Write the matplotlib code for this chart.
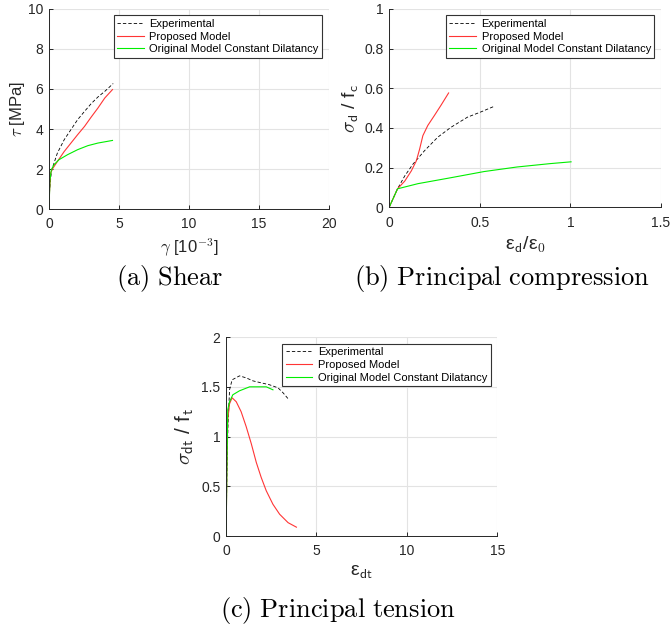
# Comparison of experimental data vs models (shear / compression / tension)
import matplotlib
matplotlib.use("Agg")
import matplotlib.pyplot as plt

plt.rcParams['font.family'] = ['Liberation Sans', 'DejaVu Sans']
plt.rcParams['mathtext.fontset'] = 'cm'

# (a) Shear
shear_exp_x = [0, 0.05, 0.17, 0.36, 0.6, 1.09, 1.57, 2.05, 2.54, 3.02, 3.5, 3.99, 4.59]
shear_exp_y = [0, 1.0, 1.88, 2.3, 2.8, 3.47, 3.97, 4.47, 4.88, 5.27, 5.6, 5.88, 6.27]
shear_prop_x = [0, 0.04, 0.12, 0.24, 0.6, 1.09, 1.57, 2.05, 2.54, 3.02, 3.5, 3.99, 4.54]
shear_prop_y = [0, 0.9, 1.8, 2.0, 2.38, 2.88, 3.3, 3.72, 4.13, 4.6, 5.05, 5.55, 5.97]
shear_orig_x = [0, 0.07, 0.17, 0.36, 0.72, 1.33, 2.05, 2.78, 3.5, 4.54]
shear_orig_y = [0, 1.47, 1.97, 2.22, 2.47, 2.72, 2.97, 3.17, 3.3, 3.43]

# (b) Principal compression
comp_exp_x = [0, 0.046, 0.086, 0.131, 0.195, 0.268, 0.341, 0.432, 0.505, 0.578]
comp_exp_y = [0, 0.093, 0.158, 0.217, 0.285, 0.353, 0.403, 0.454, 0.48, 0.508]
comp_prop_x = [0, 0.046, 0.086, 0.122, 0.150, 0.168, 0.186, 0.213, 0.25, 0.286, 0.328]
comp_prop_y = [0, 0.093, 0.132, 0.183, 0.234, 0.293, 0.361, 0.412, 0.463, 0.514, 0.576]
comp_orig_x = [0, 0.046, 0.159, 0.341, 0.524, 0.706, 0.889, 1.004]
comp_orig_y = [0, 0.093, 0.119, 0.149, 0.180, 0.203, 0.22, 0.229]

# (c) Principal tension
ten_exp_x = [0, 0.04, 0.1, 0.19, 0.33, 0.74, 1.11, 1.48, 1.94, 2.41, 2.87, 3.15, 3.43]
ten_exp_y = [0, 0.6, 1.1, 1.47, 1.57, 1.61, 1.59, 1.56, 1.54, 1.52, 1.49, 1.44, 1.38]
ten_prop_x = [0, 0.04, 0.09, 0.19, 0.33, 0.56, 0.83, 1.11, 1.39, 1.67, 1.94, 2.22,
              2.59, 2.96, 3.43, 3.89]
ten_prop_y = [0, 0.66, 1.17, 1.33, 1.39, 1.35, 1.25, 1.10, 0.93, 0.74, 0.59, 0.456,
              0.32, 0.22, 0.135, 0.09]
ten_orig_x = [0, 0.04, 0.09, 0.19, 0.37, 0.74, 1.3, 1.85, 2.22, 2.59]
ten_orig_y = [0, 0.66, 1.27, 1.35, 1.42, 1.46, 1.50, 1.50, 1.50, 1.47]

labels = ['Experimental', 'Proposed Model', 'Original Model Constant Dilatancy']


def style_axes(ax):
    ax.set_facecolor('none')
    ax.grid(True, color='#e3e3e3', linewidth=0.8)
    ax.set_axisbelow(True)
    for s in ['top', 'right']:
        ax.spines[s].set_visible(False)
    for s in ['left', 'bottom']:
        ax.spines[s].set_color('#262626')
        ax.spines[s].set_linewidth(0.7)
    ax.tick_params(direction='in', length=3, labelsize=10, colors='#262626',
                   width=0.7)
    ax.tick_params(axis='x', pad=6)
    ax.tick_params(axis='y', pad=4)


def draw(ax, ex, ey, px, py, ox, oy):
    ax.plot(ex, ey, color='black', linestyle='--', linewidth=0.6, dashes=(4, 2.5))
    ax.plot(px, py, color='#ff3535', linewidth=0.8)
    ax.plot(ox, oy, color='#00ee00', linewidth=0.8)
    leg = ax.legend(labels, loc='upper right', fontsize=8, fancybox=False,
                    framealpha=1, edgecolor='#333333', handlelength=2.4,
                    borderaxespad=0.6, borderpad=0.3, labelspacing=0.25,
                    handletextpad=0.5)
    leg.get_frame().set_linewidth(0.8)
    style_axes(ax)


fig = plt.figure(figsize=(6.71, 6.3), dpi=100)

ax1 = fig.add_axes([0.073, 0.668, 0.417, 0.318])
draw(ax1, shear_exp_x, shear_exp_y, shear_prop_x, shear_prop_y, shear_orig_x, shear_orig_y)
ax1.set_xlim(0, 20)
ax1.set_ylim(0, 10)
ax1.set_xticks([0, 5, 10, 15, 20])
ax1.set_yticks([0, 2, 4, 6, 8, 10])
ax1.set_xlabel(r'$\gamma$ [10$^{\mathsf{-3}}$]', fontsize=12, color='#262626')
ax1.set_ylabel(r'$\tau$ [MPa]', fontsize=12, color='#262626', labelpad=1)

ax2 = fig.add_axes([0.580, 0.671, 0.405, 0.315])
draw(ax2, comp_exp_x, comp_exp_y, comp_prop_x, comp_prop_y, comp_orig_x, comp_orig_y)
ax2.set_xlim(0, 1.5)
ax2.set_ylim(0, 1)
ax2.set_xticks([0, 0.5, 1, 1.5])
ax2.set_xticklabels(['0', '0.5', '1', '1.5'])
ax2.set_yticks([0, 0.2, 0.4, 0.6, 0.8, 1])
ax2.set_yticklabels(['0', '0.2', '0.4', '0.6', '0.8', '1'])
ax2.set_xlabel(r'ε$_{\mathsf{d}}$/ε$_{\mathsf{0}}$', fontsize=14, color='#262626')
ax2.set_ylabel(r'$\sigma_{\mathsf{d}}$ / f$_{\mathsf{c}}$', fontsize=14, color='#262626',
               labelpad=2)

ax3 = fig.add_axes([0.337, 0.149, 0.404, 0.316])
draw(ax3, ten_exp_x, ten_exp_y, ten_prop_x, ten_prop_y, ten_orig_x, ten_orig_y)
ax3.set_xlim(0, 15)
ax3.set_ylim(0, 2)
ax3.set_xticks([0, 5, 10, 15])
ax3.set_yticks([0, 0.5, 1, 1.5, 2])
ax3.set_yticklabels(['0', '0.5', '1', '1.5', '2'])
ax3.set_xlabel(r'ε$_{\mathsf{dt}}$', fontsize=14, color='#262626')
ax3.set_ylabel(r'$\sigma_{\mathsf{dt}}$ / f$_{\mathsf{t}}$', fontsize=15, color='#262626')

fig.text(170 / 671, 1 - 279 / 630, r'$\mathrm{(a)\ Shear}$', fontsize=19,
         ha='center', va='center')
fig.text(502 / 671, 1 - 279 / 630, r'$\mathrm{(b)\ Principal\ compression}$',
         fontsize=19, ha='center', va='center')
fig.text(338 / 671, 1 - 611 / 630, r'$\mathrm{(c)\ Principal\ tension}$',
         fontsize=19, ha='center', va='center')

fig.savefig('out.png', dpi=100)
